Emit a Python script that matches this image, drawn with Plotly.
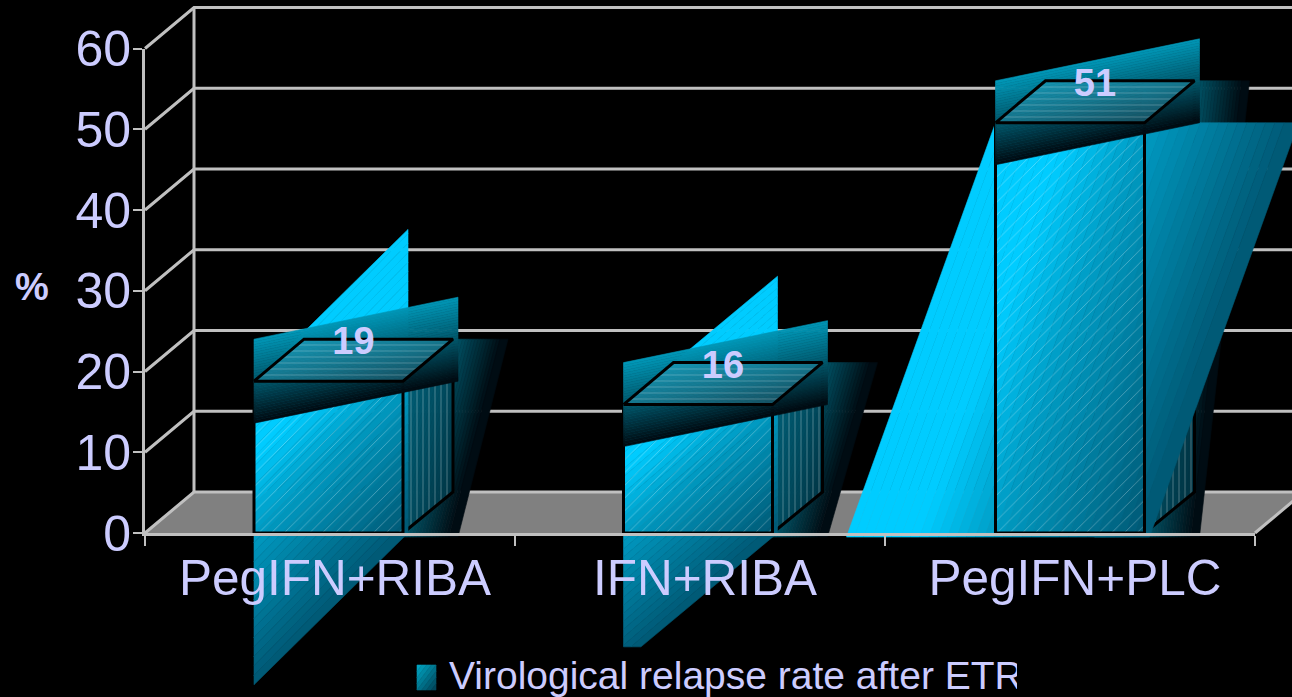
import plotly.graph_objects as go

# ---- data ----
categories = ["PegIFN+RIBA", "IFN+RIBA", "PegIFN+PLC"]
values = [18.8, 15.9, 50.8]
value_labels = ["19", "16", "51"]
y_ticks = [0, 10, 20, 30, 40, 50, 60]
series_name = "Virological relapse rate after ETR"
axis_unit = "%"

# ---- geometry / style ----
W, H = 1292, 697
ML, MR, MT, MB = 145, 37, 48.5, 164
PXX = (W - ML - MR) / 3      # px per category
PXY = (H - MT - MB) / 60     # px per value unit
BAR_W = 149 / PXX
BAR_SHIFT = [-1.5 / PXX, -2 / PXX, 0]
DEPTH_X = 50 / PXX
DEPTH_Y = 5.2
WALL_X = 49 / PXX
WALL_Y = 41 / PXY
WEDGE_FLOOR = [-25, -14.1, -1]
TEXT = "#ccccff"
GRID = "#c0c0c0"
FRONT_STOPS = [(0, (0, 204, 255)), (.25, (0, 204, 255)), (.5, (0, 156, 196)), (1, (0, 88, 116))]
DARK_STOPS = [(0, (0, 152, 184)), (.5, (0, 88, 108)), (1, (0, 10, 16))]
N_BANDS = 32


def px(p):
    return (p - ML) / PXX - 0.5


def py(p):
    return (H - MB - p) / PXY


def mix(stops, t):
    t = max(0, min(1, t))
    for (a, ca), (b, cb) in zip(stops, stops[1:]):
        if t <= b:
            f = (t - a) / (b - a) if b > a else 0
            c = [round(u + (v - u) * f) for u, v in zip(ca, cb)]
            return f"rgb({c[0]},{c[1]},{c[2]})"
    c = stops[-1][1]
    return f"rgb({c[0]},{c[1]},{c[2]})"


def clip_half(poly, fn, keep_above, level):
    out = []
    for i, p in enumerate(poly):
        q = poly[(i + 1) % len(poly)]
        a, b = fn(p) - level, fn(q) - level
        if not keep_above:
            a, b = -a, -b
        if a >= 0:
            out.append(p)
        if (a >= 0) != (b >= 0):
            f = a / (a - b)
            out.append((p[0] + (q[0] - p[0]) * f, p[1] + (q[1] - p[1]) * f))
    return out


def sheared(x0, x1, ybot, ytop):
    """Corners of the slipped gradient box that belongs to one face."""
    w, h = x1 - x0, ytop - ybot
    e = 5 / PXX
    if h * PXY < 1.15 * w * PXX:
        return [(x0, ytop), (x1 + e, ytop + h), (x1 + e, ybot), (x0, ybot - h)]
    return [(x0, ytop), (x0 + 2 * w + e, ytop), (x0 + w + e, ybot - .5), (x0 - w, ybot - .5)]


def gradient_face(fig, poly, box, stops, ax, floor=None, bands=N_BANDS):
    x0, x1, ybot, ytop = box
    fn = lambda p: ((p[0] - x0) / (x1 - x0) + (ytop - p[1]) / (ytop - ybot)) / 2
    if floor is not None:
        poly = clip_half(poly, lambda p: p[1], True, floor)
    for i in range(bands):
        lo, hi = i / bands, (i + 1) / bands
        part = clip_half(poly, fn, True, lo if i else -9)
        if i < bands - 1:
            part = clip_half(part, fn, False, hi) if part else part
        if len(part) < 3:
            continue
        col = mix(stops, (lo + hi) / 2)
        fig.add_trace(go.Scatter(
            x=[p[0] for p in part] + [part[0][0]], y=[p[1] for p in part] + [part[0][1]],
            mode="lines", fill="toself", fillcolor=col, line=dict(color=col, width=.6),
            xaxis=ax[0], yaxis=ax[1], hoverinfo="skip", showlegend=False))


def poly_trace(fig, pts, ax, **kw):
    fig.add_trace(go.Scatter(
        x=[p[0] for p in pts], y=[p[1] for p in pts], mode="lines", xaxis=ax[0], yaxis=ax[1],
        hoverinfo="skip", showlegend=False, **kw))


fig = go.Figure()
XL, XR = -0.5, 2.5
BACK = ("x", "y")    # full-page layer under the bars
TOP = ("x3", "y3")   # full-page layer over the bars

# floor, walls and gridlines
poly_trace(fig, [(XL, 0), (XL + WALL_X, WALL_Y), (XR + WALL_X, WALL_Y), (XR, 0), (XL, 0)], BACK,
           fill="toself", fillcolor="#808080", line=dict(color="#808080", width=0))
for t in y_ticks:
    poly_trace(fig, [(XL, t), (XL + WALL_X, t + WALL_Y), (XR + WALL_X, t + WALL_Y)], BACK,
               line=dict(color=GRID, width=3))
poly_trace(fig, [(XL + WALL_X, WALL_Y), (XL + WALL_X, 60 + WALL_Y)], BACK, line=dict(color=GRID, width=3))
poly_trace(fig, [(XR, 0), (XR + WALL_X, WALL_Y)], BACK, line=dict(color=GRID, width=3))

# side and front gradients behind the bars
for i, v in enumerate(values):
    left, right = i + BAR_SHIFT[i] - BAR_W / 2, i + BAR_SHIFT[i] + BAR_W / 2
    box = (right, right + DEPTH_X, 0, v + DEPTH_Y)
    gradient_face(fig, sheared(*box), box, DARK_STOPS, BACK)
    poly_trace(fig, [(right, v), (right + DEPTH_X, v + DEPTH_Y), (right + DEPTH_X, WALL_Y),
                     (right + 5 / PXX, .5), (right, 0), (right, v)], BACK,
               fill="toself", line=dict(color="black", width=3),
               fillcolor="rgba(0,70,90,.6)",
               fillpattern=dict(shape="|", size=6, solidity=.18, fgcolor="rgba(255,255,255,.55)",
                                bgcolor="rgba(0,70,90,.6)"))
    box = (left, right, 0, v)
    gradient_face(fig, sheared(*box), box, FRONT_STOPS, BACK, floor=WEDGE_FLOOR[i])

# bars with hatch and outline
fig.add_trace(go.Bar(
    x=categories, y=values, xaxis="x2", yaxis="y2", width=BAR_W, name=series_name,
    offset=[s - BAR_W / 2 for s in BAR_SHIFT],
    showlegend=False, hoverinfo="skip",
    marker=dict(color="rgba(0,0,0,0)", line=dict(color="black", width=3),
                pattern=dict(shape="/", size=9, solidity=.1, fgcolor="rgba(255,255,255,.6)",
                             bgcolor="rgba(0,0,0,0)"))))

# top faces over the bars
for i, v in enumerate(values):
    left, right = i + BAR_SHIFT[i] - BAR_W / 2, i + BAR_SHIFT[i] + BAR_W / 2
    box = (left, right + DEPTH_X, v, v + DEPTH_Y)
    gradient_face(fig, sheared(*box), box, DARK_STOPS, TOP)
    poly_trace(fig, [(left, v), (left + DEPTH_X, v + DEPTH_Y), (right + DEPTH_X, v + DEPTH_Y),
                     (right, v), (left, v)], TOP,
               fill="toself", line=dict(color="black", width=3),
               fillcolor="rgba(60,170,200,.35)",
               fillpattern=dict(shape="-", size=6, solidity=.15, fgcolor="rgba(255,255,255,.5)",
                                bgcolor="rgba(60,170,200,.35)"))

# value labels
fig.add_trace(go.Scatter(
    x=[i + BAR_SHIFT[i] + DEPTH_X / 2 for i in range(len(values))], y=[v + DEPTH_Y - .7 for v in values],
    text=value_labels, mode="text", xaxis=TOP[0], yaxis=TOP[1],
    textposition="middle center", hoverinfo="skip", showlegend=False,
    textfont=dict(family="Liberation Sans", size=38, color=TEXT, weight="bold")))

# legend key and text, cut off on the right as in the source picture
key = (px(417), px(436), py(690), py(665))
gradient_face(fig, [(key[0], key[3]), (key[1], key[3]), (key[1], key[2]), (key[0], key[2])],
              key, [(0, (0, 170, 200)), (1, (0, 64, 84))], TOP, bands=8)
fig.add_trace(go.Scatter(
    x=[px(449)], y=[py(679)], text=[series_name], mode="text", xaxis=TOP[0], yaxis=TOP[1],
    textposition="middle right", hoverinfo="skip", showlegend=False,
    textfont=dict(family="Liberation Sans", size=39, color=TEXT)))
poly_trace(fig, [(px(1017), py(650)), (px(1060), py(650)), (px(1060), py(697)), (px(1017), py(697)),
                 (px(1017), py(650))], TOP, fill="toself", fillcolor="black",
           line=dict(color="black", width=0))

page_x = dict(visible=False, range=[px(0), px(W)], domain=[0, 1], fixedrange=True)
page_y = dict(visible=False, range=[py(H), py(0)], domain=[0, 1], fixedrange=True)
fig.update_layout(
    width=W, height=H, autosize=False, showlegend=False, paper_bgcolor="black", plot_bgcolor="rgba(0,0,0,0)",
    margin=dict(l=0, r=0, t=0, b=0, autoexpand=False), barmode="overlay",
    font=dict(family="Liberation Sans", color=TEXT),
    xaxis=dict(page_x, anchor="y"), yaxis=dict(page_y, anchor="x"),
    xaxis3=dict(page_x, anchor="y3"), yaxis3=dict(page_y, anchor="x3"),
    xaxis2=dict(anchor="y2", domain=[ML / W, 1 - MR / W], type="category", categoryorder="array",
                categoryarray=categories, range=[XL, XR], tickson="boundaries", ticks="outside", ticklen=10,
                tickwidth=2.4, tickcolor=GRID, showline=True, linecolor=GRID, linewidth=3, showgrid=False,
                zeroline=False, tickfont=dict(size=49.5, color=TEXT, family="Liberation Sans"),
                ticklabelshift=5, fixedrange=True),
    yaxis2=dict(anchor="x2", domain=[MB / H, 1 - MT / H], range=[0, 60], tickmode="array", tickvals=y_ticks,
                ticks="outside", ticklen=9, tickwidth=2.4, tickcolor=GRID, showline=True, linecolor=GRID,
                linewidth=3, showgrid=False, zeroline=False, fixedrange=True, ticklabelstandoff=-8,
                tickfont=dict(size=50, color=TEXT, family="Liberation Sans")),
    annotations=[dict(text=axis_unit, xref="paper", yref="paper", x=32 / W, y=1 - 287 / H,
                      xanchor="center", yanchor="middle", showarrow=False,
                      font=dict(family="Liberation Sans", size=38, color=TEXT, weight="bold"))],
)
fig.write_html("out.html", config={"displayModeBar": False},
               post_script="document.body.style.margin='0';document.body.style.background='black';")
